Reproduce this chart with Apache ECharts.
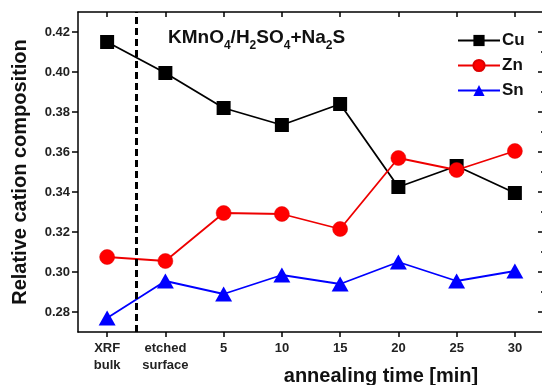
<!DOCTYPE html>
<html>
<head>
<meta charset="utf-8">
<script src="https://cdn.jsdelivr.net/npm/echarts@6/dist/echarts.min.js"></script>
<style>
  html, body { margin: 0; padding: 0; background: #fff; }
  #chart { width: 542px; height: 385px; }
</style>
</head>
<body>
<div id="chart"></div>
<script>
// x categories and values
const categories = ['XRF\nbulk', 'etched\nsurface', '5', '10', '15', '20', '25', '30'];
const cuValues = [0.415, 0.3995, 0.382, 0.3735, 0.384, 0.3425, 0.353, 0.3395];
const znValues = [0.3075, 0.3055, 0.3295, 0.329, 0.3215, 0.357, 0.351, 0.3605];
const snValues = [0.277, 0.2955, 0.289, 0.2985, 0.294, 0.305, 0.2955, 0.3005];
const yMajorTicks = [0.28, 0.30, 0.32, 0.34, 0.36, 0.38, 0.40, 0.42];
const yMinorTicks = [0.29, 0.31, 0.33, 0.35, 0.37, 0.39, 0.41];
const dividerAt = 1; // dashed line between "XRF bulk" and "etched surface"

const chart = echarts.init(document.getElementById('chart'));
const font = 'Liberation Sans, Arial, sans-serif';
const axisLine = { show: true, lineStyle: { color: '#000', width: 1.5 } };

function yAxisDef(opts) {
  return Object.assign({
    type: 'value',
    min: 0.27,
    max: 0.43,
    axisLine: axisLine,
    splitLine: { show: false },
    axisLabel: { show: false },
    axisTick: { show: false }
  }, opts);
}

const option = {
  backgroundColor: '#fff',
  animation: false,
  textStyle: { fontFamily: font },
  title: {
    left: 163,
    top: 23,
    text: '{n|KMnO}{s|4}{n|/H}{s|2}{n|SO}{s|4}{n|+Na}{s|2}{n|S}',
    textStyle: {
      rich: {
        n: { fontFamily: font, fontWeight: 'bold', fontSize: 19, color: '#111', verticalAlign: 'top' },
        s: { fontFamily: font, fontWeight: 'bold', fontSize: 12, color: '#111', verticalAlign: 'top', padding: [12, 0, 0, 0] }
      }
    }
  },
  legend: {
    orient: 'vertical',
    left: 452,
    top: 27,
    itemWidth: 42,
    itemHeight: 14,
    itemGap: 8,
    textStyle: { fontFamily: font, fontWeight: 'bold', fontSize: 17, color: '#111', padding: [0, 0, 0, -3] },
    data: ['Cu', 'Zn', 'Sn']
  },
  grid: { left: 78, right: -2, top: 12, bottom: 53, containLabel: false, outerBoundsMode: 'none' },
  xAxis: [
    {
      type: 'category',
      data: categories,
      boundaryGap: true,
      axisLine: axisLine,
      axisTick: { show: true, alignWithLabel: true, length: 5, lineStyle: { color: '#000', width: 1.5 } },
      axisLabel: { interval: 0, fontFamily: font, fontWeight: 'bold', fontSize: 13, color: '#222', lineHeight: 17, margin: 8 },
      name: 'annealing time [min]',
      nameLocation: 'middle',
      nameMoveOverlap: false,
      nameGap: 34,
      nameTextStyle: { fontFamily: font, fontWeight: 'bold', fontSize: 20, color: '#111', padding: [0, 0, 0, 140] }
    },
    {
      type: 'category',
      position: 'top',
      data: categories,
      boundaryGap: true,
      axisLine: axisLine,
      axisTick: { show: true, inside: true, alignWithLabel: true, length: 5, lineStyle: { color: '#000', width: 1.5 } },
      axisLabel: { show: false }
    },
    {
      type: 'value',
      min: 0,
      max: categories.length,
      show: false
    }
  ],
  yAxis: [
    yAxisDef({
      name: 'Relative cation composition',
      nameLocation: 'middle',
      nameGap: 48,
      nameTextStyle: { fontFamily: font, fontWeight: 'bold', fontSize: 20, color: '#111' },
      axisTick: { show: true, customValues: yMajorTicks, length: 6, lineStyle: { color: '#000', width: 1.5 } },
      axisLabel: { show: true, customValues: yMajorTicks, fontFamily: font, fontWeight: 'bold', fontSize: 13, color: '#222', margin: 8,
        formatter: v => v.toFixed(2) }
    }),
    yAxisDef({
      axisTick: { show: true, customValues: yMinorTicks, length: 3, lineStyle: { color: '#000', width: 1.5 } }
    }),
    yAxisDef({
      position: 'right',
      axisTick: { show: true, inside: true, customValues: yMajorTicks, length: 6, lineStyle: { color: '#000', width: 1.5 } }
    }),
    yAxisDef({
      position: 'right',
      axisTick: { show: true, inside: true, customValues: yMinorTicks, length: 3, lineStyle: { color: '#000', width: 1.5 } }
    })
  ],
  series: [
    {
      name: 'Cu',
      type: 'line',
      data: cuValues,
      symbol: 'rect',
      symbolSize: 14,
      itemStyle: { color: '#000' },
      lineStyle: { color: '#000', width: 1.8 }
    },
    {
      name: 'Zn',
      type: 'line',
      data: znValues,
      symbol: 'circle',
      symbolSize: 15,
      itemStyle: { color: '#f00', borderColor: '#d00', borderWidth: 0.5 },
      lineStyle: { color: '#e00', width: 1.8 }
    },
    {
      name: 'Sn',
      type: 'line',
      data: snValues,
      symbol: 'triangle',
      symbolSize: [17, 15],
      itemStyle: { color: '#00f' },
      lineStyle: { color: '#00f', width: 1.8 }
    },
    {
      name: 'divider',
      type: 'line',
      xAxisIndex: 2,
      data: [],
      silent: true,
      markLine: {
        symbol: 'none',
        silent: true,
        label: { show: false },
        lineStyle: { color: '#000', type: [7, 4], width: 3 },
        data: [{ xAxis: dividerAt }]
      }
    }
  ]
};

chart.setOption(option);
</script>
</body>
</html>
